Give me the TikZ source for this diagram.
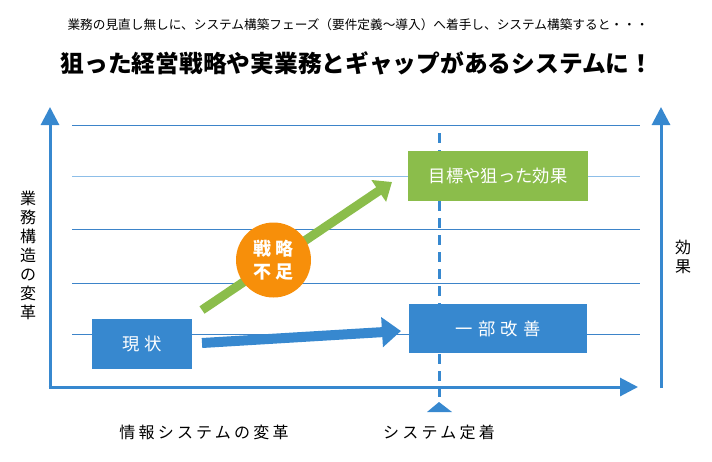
\documentclass[tikz,border=0pt]{standalone}
\usepackage{fontspec}
\setmainfont{Noto Sans CJK JP}
\newfontfamily\jpsp[LetterSpace=20]{Noto Sans CJK JP}
\newfontfamily\jpwide[LetterSpace=30]{Noto Sans CJK JP}
\usetikzlibrary{arrows.meta}
\definecolor{axisblue}{HTML}{3788CF}
\definecolor{gridblue}{HTML}{3D84C9}
\definecolor{gridlight}{HTML}{8DBEE8}
\definecolor{leafgreen}{HTML}{8BBD4B}
\definecolor{gaporange}{HTML}{F78F0A}
\begin{document}
\begin{tikzpicture}[x=0.75pt,y=-0.75pt,
    box/.style={fill=#1,text=white,inner sep=0pt},
    lbl/.style={text=black,font=\jpsp\fontsize{12}{14.25}\selectfont,align=center},
    axis/.style={axisblue,line width=2.25pt,-{Triangle[length=13.5pt,width=13.5pt]}}]
\useasboundingbox (0,0) rectangle (712,461);

% headings
\node (intro) at (358,25) {\fontsize{9.5}{11}\selectfont 業務の見直し無しに、システム構築フェーズ（要件定義～導入）へ着手し、システム構築すると・・・};
\node (title) at (357,63) {\fontsize{17.8}{20}\selectfont\bfseries 狙った経営戦略や実業務とギャップがあるシステムに！};

% grid
\foreach \y in {125,229,283,334}
    \draw[gridblue,line width=0.75pt] (72,\y) -- (640,\y);
\draw[gridlight,line width=0.75pt] (72,176.5) -- (640,176.5);

% axes
\coordinate (origin) at (50,387);
\coordinate (ytop)   at (50,107);
\coordinate (xend)   at (638,387);
\coordinate (ebase)  at (661,388);
\coordinate (etop)   at (661,107);
\draw[axis] (origin) -- (ytop);
\draw[axis] ([xshift=-1.1pt]origin) -- (xend);
\draw[axis] (ebase) -- (etop);

% settle line
\coordinate (settop) at (439,133);
\coordinate (setbot) at (439,397);
\draw[axisblue,line width=2.25pt,dash pattern=on 7.5pt off 5.25pt] (settop) -- (setbot);
\fill[axisblue] (439,402) -- (452,412) -- (427,412) -- cycle;

% boxes
\node[box=axisblue,minimum width=75pt,minimum height=37.5pt] (now) at (142,344)
    {\jpwide\fontsize{13}{15}\selectfont 現状};
\node[box=axisblue,minimum width=133.5pt,minimum height=36.75pt] (part) at (498,328.5)
    {\jpwide\fontsize{13}{15}\selectfont 一部改善};
\node[box=leafgreen,minimum width=135pt,minimum height=37.5pt] (goal) at (498,176)
    {\fontsize{13}{15}\selectfont 目標や狙った効果};

% arrows
\coordinate (gstart) at (202,310);
\coordinate (gtip)   at (392,182);
\draw[leafgreen,line width=6.75pt,-{Triangle[length=12pt,width=19pt]}] (gstart) -- (gtip);
\coordinate (bstart) at (202,343);
\coordinate (btip)   at (401,331);
\draw[axisblue,line width=7.5pt,-{Triangle[length=14.25pt,width=21.75pt]}] (bstart) -- (btip);

\node[circle,fill=gaporange,text=white,minimum size=56.25pt,inner sep=0pt,align=center,
      font=\jpsp\fontsize{13.5}{17}\selectfont\bfseries] (gap) at (273.5,260) {戦略\\不足};

% labels
\node[lbl] (ylab) at (28,255) {業\\務\\構\\造\\の\\変\\革};
\node[lbl] (elab) at (683,257) {効\\果};
\node[lbl] (xlab) at (204,432) {情報システムの変革};
\node[lbl] (slab) at (439,432) {システム定着};
\end{tikzpicture}
\end{document}
